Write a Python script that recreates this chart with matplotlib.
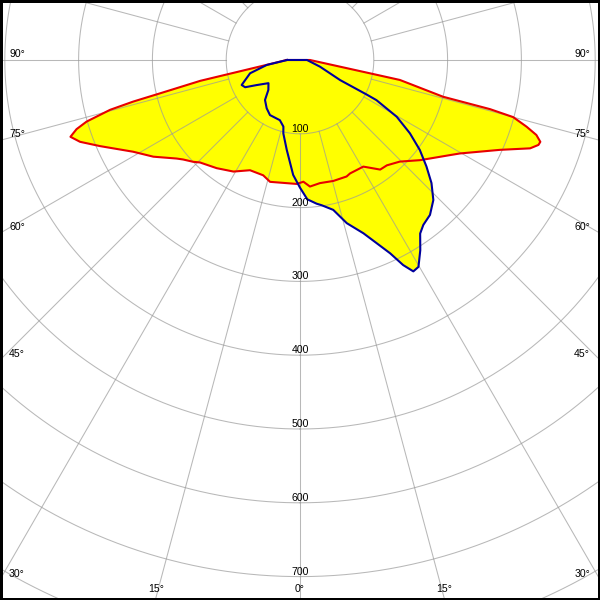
import numpy as np
import matplotlib
matplotlib.use("Agg")
import matplotlib.pyplot as plt
from matplotlib.patches import Rectangle

# ---------------- data (gamma in degrees, intensity in cd/klm) ----------------
red_gamma = [-90, -83, -78.2, -76.6, -76.0, -75.3, -73.9, -72.8, -71.5, -69.6,
             -66.7, -61.2, -56.6, -51.4, -49.6, -46.4, -44.3, -37.6, -30.8, -24.4,
             -17.7, -13.8, -1.5, 1.6, 4.5, 9.2, 15.4, 21.8, 23.8, 30.7,
             36.2, 39.5, 44.5, 50.2, 57.7, 59.7, 65.8, 69.0, 70.4, 71.2,
             72.4, 73.6, 75.0, 75.5, 75.6, 78.7, 90]
red_I = [18, 36.5, 138, 195, 233, 266, 301, 317, 328, 318,
         295, 258, 238, 214, 208, 200, 194, 185, 176, 164,
         164, 170, 168, 165, 172, 169, 170, 170, 168, 168,
         184, 185, 193, 212, 241, 251, 297, 334, 343, 344,
         336, 320, 299, 266, 200, 138, 13.5]

blue_gamma = [-90, -81.5, -75.1, -66.8, -63.6, -60, -53.7, -46.6, -41.2, -34.6,
              -28.6, -18.5, -14, -12.8, -8.4, -3.4, 0, 3, 6.6, 8.5,
              12.5, 16, 20.1, 22.7, 25, 26.7, 28.2, 29.8, 32.3, 34.7,
              36.8, 40, 43.6, 46.9, 49.9, 53.1, 56.3, 59.6, 62.3, 62.6,
              63.4, 71.5, 90]
blue_I = [17.6, 45.6, 70, 86, 83, 68, 53, 59, 72, 79.5,
          85, 86, 93, 102, 123, 156, 173, 189, 196, 199,
          208, 230, 250, 269, 289, 311, 325, 323, 305, 286,
          279, 274, 262, 244, 224, 203, 179, 152, 117, 102,
          61, 28.6, 9.5]

ring_values = [100, 200, 300, 400, 500, 600, 700, 800]
ring_labels = ["100", "200", "300", "400", "500", "600", "700"]
angle_ticks = [0, 15, 30, 45, 60, 75, 90]

# ---------------- layout ----------------
W = H = 600
cx, cy = 300.0, 60.0        # polar centre in pixels (from top-left)
scale = 0.738               # pixels per unit
rmax = 850
R = rmax * scale

plt.rcParams["font.family"] = ["Liberation Sans", "DejaVu Sans"]
fs = 7.6

fig = plt.figure(figsize=(6, 6), dpi=100)
fig.patch.set_facecolor("white")
ax = fig.add_axes([(cx - R) / W, (H - cy - R) / H, 2 * R / W, 2 * R / H],
                  projection="polar")
ax.set_theta_zero_location("S")
ax.set_theta_direction(1)
ax.set_ylim(0, rmax)
ax.set_axis_off()

yellow = "#ffff00"
red = "#e80000"
blue = "#00009c"
gridc = "#9a9a9a"

rg = np.radians(red_gamma)
bg = np.radians(blue_gamma)
ax.fill(rg, red_I, color=yellow, lw=0, zorder=1)
ax.fill(bg, blue_I, color=yellow, lw=0, zorder=1)

# grid
th = np.linspace(0, 2 * np.pi, 1441)
for r in ring_values:
    ax.plot(th, np.full_like(th, r), color=gridc, lw=0.75, alpha=0.7, zorder=2)
for a in range(0, 360, 15):
    ax.plot([np.radians(a)] * 2, [ring_values[0], rmax], color=gridc, lw=0.75,
            alpha=0.7, zorder=2)

# curves
ax.plot(np.append(rg, rg[0]), np.append(red_I, red_I[0]), color=red, lw=1.5,
        zorder=4, solid_joinstyle="round")
ax.plot(np.append(bg, bg[0]), np.append(blue_I, blue_I[0]), color=blue, lw=1.5,
        zorder=5, solid_joinstyle="round")

# radial value labels
for val, lab in zip(ring_values, ring_labels):
    ax.annotate(lab, xy=(0, val), xytext=(0, 2), textcoords="offset pixels",
                ha="center", va="baseline", fontsize=fs, zorder=6)

# angle labels at the border
for g in angle_ticks:
    gr = np.radians(g)
    if g > 0:
        t = cx / np.sin(gr)
        y = cy + t * np.cos(gr)
    else:
        y = H + 1
    if y <= H - 5:
        base = y - 3
        fig.text(9 / W, 1 - base / H, f"{g}°", ha="left", va="baseline", fontsize=fs)
        fig.text(590 / W, 1 - base / H, f"{g}°", ha="right", va="baseline", fontsize=fs)
    else:
        xoff = (H - 2 - cy) * np.tan(gr)
        for x in sorted({cx - xoff, cx + xoff}):
            fig.text(x / W, 1 - 592.5 / H, f"{g}°", ha="center", va="baseline",
                     fontsize=fs)

fig.add_artist(Rectangle((0, 0), 1, 1, transform=fig.transFigure, fill=False,
                         ec="black", lw=3.6, zorder=10))

fig.savefig("out.png", dpi=100)
